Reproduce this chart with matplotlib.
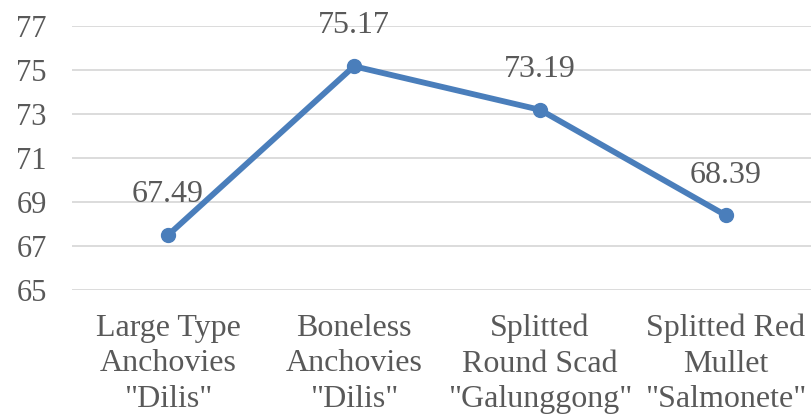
import matplotlib.pyplot as plt

# Score per product
products = ['Large Type\nAnchovies\n"Dilis"',
            'Boneless\nAnchovies\n"Dilis"',
            'Splitted\nRound Scad\n"Galunggong"',
            'Splitted Red\nMullet\n"Salmonete"']
scores = [67.49, 75.17, 73.19, 68.39]
y_ticks = [65, 67, 69, 71, 73, 75, 77]

plt.rcParams['font.family'] = ['Liberation Serif', 'DejaVu Serif']
text_color = '#595959'
line_color = '#4a7ebb'

fig = plt.figure(figsize=(8.11, 4.2), dpi=100)
ax = fig.add_axes([72 / 811, 130 / 420, 739 / 811, 264 / 420])

x = list(range(len(scores)))
ax.plot(x, scores, color=line_color, linewidth=4.2, marker='o',
        markersize=10, solid_capstyle='round', zorder=3)

for xi, v in zip(x, scores):
    ax.annotate(f'{v:.2f}', (xi, v), xytext=(0, 29), textcoords='offset points',
                ha='center', va='center', fontsize=23, color=text_color,
                annotation_clip=False)

ax.set_xlim(-0.516, 3.457)
ax.set_ylim(65, 77)
ax.set_yticks(y_ticks)
ax.set_xticks(x)
ax.set_xticklabels(products, linespacing=1.3, fontsize=23)
ax.tick_params(axis='both', length=0, colors=text_color)
ax.tick_params(axis='y', pad=18, labelsize=22)
ax.tick_params(axis='x', pad=17)
ax.yaxis.grid(True, color='#d9d9d9', linewidth=1.3)
ax.set_axisbelow(True)
for s in ax.spines.values():
    s.set_visible(False)

fig.savefig('out.png', dpi=100)
